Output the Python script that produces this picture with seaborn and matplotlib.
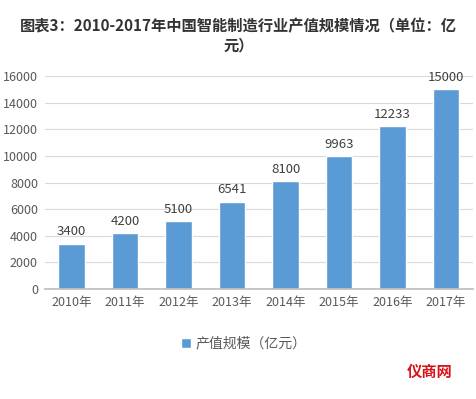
import matplotlib
matplotlib.use("Agg")
import matplotlib.pyplot as plt
import seaborn as sns
import pandas as pd

years = ["2010年", "2011年", "2012年", "2013年", "2014年", "2015年", "2016年", "2017年"]
values = [3400, 4200, 5100, 6541, 8100, 9963, 12233, 15000]
series_name = "产值规模（亿元）"
title = "图表3：2010-2017年中国智能制造行业产值规模情况（单位：亿\n元）"

sns.set_theme(style="white")
plt.rcParams['font.family'] = ['Noto Sans CJK SC', 'DejaVu Sans']

df = pd.DataFrame({"year": years, "value": values})

fig = plt.figure(figsize=(4.77, 3.99), dpi=100)
ax = fig.add_axes([0.094, 0.2757, 0.897, 0.5338])
bar_color = "#5B9BD5"
sns.barplot(data=df, x="year", y="value", color=bar_color, width=0.5,
            saturation=1, ax=ax, label=series_name)

ax.set_ylim(0, 16000)
ax.set_yticks(range(0, 16001, 2000))
ax.set_xlabel("")
ax.set_ylabel("")
ax.grid(axis="y", color="#D9D9D9", linewidth=0.8)
ax.set_axisbelow(True)
for s in ["top", "right", "left"]:
    ax.spines[s].set_visible(False)
ax.spines["bottom"].set_color("#BFBFBF")
ax.tick_params(axis="both", colors="#595959", labelsize=9, length=0, pad=5)
for lbl in ax.get_xticklabels() + ax.get_yticklabels():
    lbl.set_color("#595959")

for c in ax.containers:
    ax.bar_label(c, labels=[str(v) for v in values], padding=4, fontsize=9.5, color="#404040")

leg = ax.legend(loc="upper center", bbox_to_anchor=(0.465, -0.165), frameon=False,
                fontsize=10, handlelength=0.7, handleheight=0.7, handletextpad=0.3)
for t in leg.get_texts():
    t.set_color("#595959")

fig.text(0.5, 0.955, title, ha="center", va="top", fontsize=11, fontweight="bold",
         color="#333333", linespacing=1.3, multialignment="center")

fig.text(0.9, 0.068, "仪商网", ha="center", va="center", fontsize=11, fontweight="bold",
         color="#D7141A")

fig.savefig("out.png", dpi=100)
